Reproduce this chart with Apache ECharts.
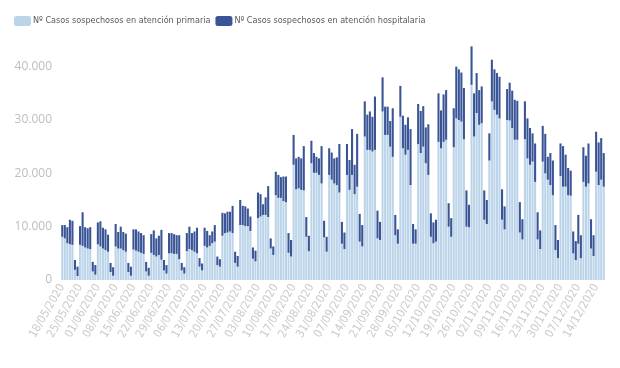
<!DOCTYPE html>
<html>
<head>
<meta charset="utf-8">
<script src="https://cdn.jsdelivr.net/npm/echarts@6/dist/echarts.min.js"></script>
<style>html,body{margin:0;padding:0;background:#fff}#c{width:620px;height:368px}</style>
</head>
<body>
<div id="c"></div>
<script>
const categories = [
'18/05/2020','19/05/2020','20/05/2020','21/05/2020','22/05/2020','23/05/2020','24/05/2020',
'25/05/2020','26/05/2020','27/05/2020','28/05/2020','29/05/2020','30/05/2020','31/05/2020',
'01/06/2020','02/06/2020','03/06/2020','04/06/2020','05/06/2020','06/06/2020','07/06/2020',
'08/06/2020','09/06/2020','10/06/2020','11/06/2020','12/06/2020','13/06/2020','14/06/2020',
'15/06/2020','16/06/2020','17/06/2020','18/06/2020','19/06/2020','20/06/2020','21/06/2020',
'22/06/2020','23/06/2020','24/06/2020','25/06/2020','26/06/2020','27/06/2020','28/06/2020',
'29/06/2020','30/06/2020','01/07/2020','02/07/2020','03/07/2020','04/07/2020','05/07/2020',
'06/07/2020','07/07/2020','08/07/2020','09/07/2020','10/07/2020','11/07/2020','12/07/2020',
'13/07/2020','14/07/2020','15/07/2020','16/07/2020','17/07/2020','18/07/2020','19/07/2020',
'20/07/2020','21/07/2020','22/07/2020','23/07/2020','24/07/2020','25/07/2020','26/07/2020',
'27/07/2020','28/07/2020','29/07/2020','30/07/2020','31/07/2020','01/08/2020','02/08/2020',
'03/08/2020','04/08/2020','05/08/2020','06/08/2020','07/08/2020','08/08/2020','09/08/2020',
'10/08/2020','11/08/2020','12/08/2020','13/08/2020','14/08/2020','15/08/2020','16/08/2020',
'17/08/2020','18/08/2020','19/08/2020','20/08/2020','21/08/2020','22/08/2020','23/08/2020',
'24/08/2020','25/08/2020','26/08/2020','27/08/2020','28/08/2020','29/08/2020','30/08/2020',
'31/08/2020','01/09/2020','02/09/2020','03/09/2020','04/09/2020','05/09/2020','06/09/2020',
'07/09/2020','08/09/2020','09/09/2020','10/09/2020','11/09/2020','12/09/2020','13/09/2020',
'14/09/2020','15/09/2020','16/09/2020','17/09/2020','18/09/2020','19/09/2020','20/09/2020',
'21/09/2020','22/09/2020','23/09/2020','24/09/2020','25/09/2020','26/09/2020','27/09/2020',
'28/09/2020','29/09/2020','30/09/2020','01/10/2020','02/10/2020','03/10/2020','04/10/2020',
'05/10/2020','06/10/2020','07/10/2020','08/10/2020','09/10/2020','10/10/2020','11/10/2020',
'12/10/2020','13/10/2020','14/10/2020','15/10/2020','16/10/2020','17/10/2020','18/10/2020',
'19/10/2020','20/10/2020','21/10/2020','22/10/2020','23/10/2020','24/10/2020','25/10/2020',
'26/10/2020','27/10/2020','28/10/2020','29/10/2020','30/10/2020','31/10/2020','01/11/2020',
'02/11/2020','03/11/2020','04/11/2020','05/11/2020','06/11/2020','07/11/2020','08/11/2020',
'09/11/2020','10/11/2020','11/11/2020','12/11/2020','13/11/2020','14/11/2020','15/11/2020',
'16/11/2020','17/11/2020','18/11/2020','19/11/2020','20/11/2020','21/11/2020','22/11/2020',
'23/11/2020','24/11/2020','25/11/2020','26/11/2020','27/11/2020','28/11/2020','29/11/2020',
'30/11/2020','01/12/2020','02/12/2020','03/12/2020','04/12/2020','05/12/2020','06/12/2020',
'07/12/2020','08/12/2020','09/12/2020','10/12/2020','11/12/2020','12/12/2020','13/12/2020',
'14/12/2020','15/12/2020','16/12/2020','17/12/2020'
];

const primaria = [
8100,7800,6900,6700,6600,1900,750,
6600,6400,6100,5900,5800,1600,1000,
6700,6300,5900,5600,5300,1500,800,
6300,5900,5900,5600,5300,1500,800,
5700,5500,5300,5100,4900,1600,800,
5100,4700,4400,4700,3800,1800,1200,
5000,5000,4900,4900,3900,1800,1200,
5400,5800,5600,5300,5000,2500,1800,
6400,6100,6400,6900,7200,2800,2500,
8300,8800,8900,9100,8800,3200,2500,
10300,10300,10100,10100,9200,4000,3500,
11600,11900,12200,12200,11800,5900,4700,
15900,15400,15400,14800,14600,5100,4400,
21600,17000,17200,16900,16800,8100,5400,
21900,20100,20100,19700,18100,8000,5300,
19700,18800,18100,17800,16400,6800,5800,
19700,16900,19700,16100,17500,7200,6300,
26900,24400,24400,24100,24400,7800,7500,
31600,27200,27200,25000,23100,8400,6800,
30600,24700,23500,24400,17800,6800,6800,
25500,23800,25000,21900,19700,8100,6900,
7200,25900,24700,25900,26300,10000,8100,
24900,30300,30000,29700,26400,10000,9900,
36600,26900,31300,29100,29400,11300,10500,
22400,33500,31900,31000,30300,11300,9500,
30000,29900,28500,26300,26300,8900,7600,
26400,22800,21600,22200,18400,7600,5800,
22200,20000,18800,17800,15900,5600,4100,
19500,17500,17500,15900,15800,5000,3750,
6800,4100,18400,17500,18100,5900,4500,
20300,17800,18800,17500
];

const hospitalaria = [
2200,2500,3000,4600,4500,1850,1750,
3500,6300,3800,3800,4100,1800,1800,
4100,4700,3900,3900,3200,1700,1600,
4200,3100,4100,3400,3400,1700,1700,
3800,4000,3800,3700,3500,1800,1500,
3500,4600,3400,3600,5600,1950,1600,
3800,3800,3700,3500,4500,1400,1200,
3400,4200,3200,3800,4800,1600,1300,
3400,3100,2000,2200,3100,1600,1400,
4300,3700,3900,3700,5100,2100,2000,
4700,3600,3700,3300,2700,2100,2000,
4800,4200,2000,3300,5800,1900,1600,
4400,4300,3900,4600,4800,3700,3100,
5600,5800,5900,5900,8300,3700,2900,
4200,3700,3000,3100,7000,3100,2800,
5000,5100,4700,5200,9100,4100,3100,
5800,5600,8600,5500,9900,5200,4000,
6600,6600,7200,6500,10000,5200,3400,
6400,5300,5300,4800,9100,3800,2700,
5800,6100,5600,6100,10500,3700,2700,
7500,7900,7600,6700,9500,4400,3900,
4100,9100,7100,8900,9300,4400,3500,
7300,9700,9500,9200,9600,6800,4200,
7200,8100,7500,6500,6900,5500,4500,
5100,7800,7600,7800,7800,5700,4300,
5800,7100,7000,7500,7300,5700,3800,
7100,7500,6900,5300,7200,5100,3500,
6700,7400,4300,6000,6500,4700,3400,
6100,7600,6000,5100,4700,4100,3550,
5400,4300,6500,5800,7500,5500,3900,
7500,8000,7800,6300
];

const seriesNames = ['Nº Casos sospechosos en atención primaria', 'Nº Casos sospechosos en atención hospitalaria'];
const yTicks = [0, 10000, 20000, 30000, 40000];

const chart = echarts.init(document.getElementById('c'));
chart.setOption({
  animation: false,
  legend: {
    data: seriesNames,
    left: 9, top: 11,
    icon: 'roundRect',
    itemWidth: 17, itemHeight: 10, itemGap: 5,
    textStyle: { fontSize: 9, color: '#595959', padding: [0, 0, 0, -3], fontFamily: '"Liberation Sans Narrow", "DejaVu Sans Condensed", sans-serif' }
  },
  grid: { left: 61, right: 15, top: 40, bottom: 88, containLabel: false },
  xAxis: {
    type: 'category',
    data: categories,
    axisLine: { show: false },
    axisTick: { show: false },
    axisLabel: { interval: 6, rotate: 60, color: '#cacaca', fontSize: 11.5, margin: 5, fontFamily: '"Liberation Sans Narrow", "DejaVu Sans Condensed", sans-serif' }
  },
  yAxis: {
    type: 'value',
    min: 0, max: 45000, interval: 10000,
    splitLine: { show: false },
    axisLine: { show: false },
    axisTick: { show: false },
    axisLabel: {
      color: '#bdbdbd', fontSize: 12, margin: 9, fontFamily: '"Open Sans", sans-serif',
      formatter: function (v) { return yTicks.indexOf(v) >= 0 ? String(v).replace(/\B(?=(\d{3})+(?!\d))/g, '.') : ''; }
    }
  },
  series: [
    { name: seriesNames[0], type: 'bar', stack: 'a', data: primaria, barCategoryGap: '18%', itemStyle: { color: '#bcd4ea' } },
    { name: seriesNames[1], type: 'bar', stack: 'a', data: hospitalaria, barCategoryGap: '18%', itemStyle: { color: '#3a5596' } }
  ]
});
</script>
</body>
</html>
